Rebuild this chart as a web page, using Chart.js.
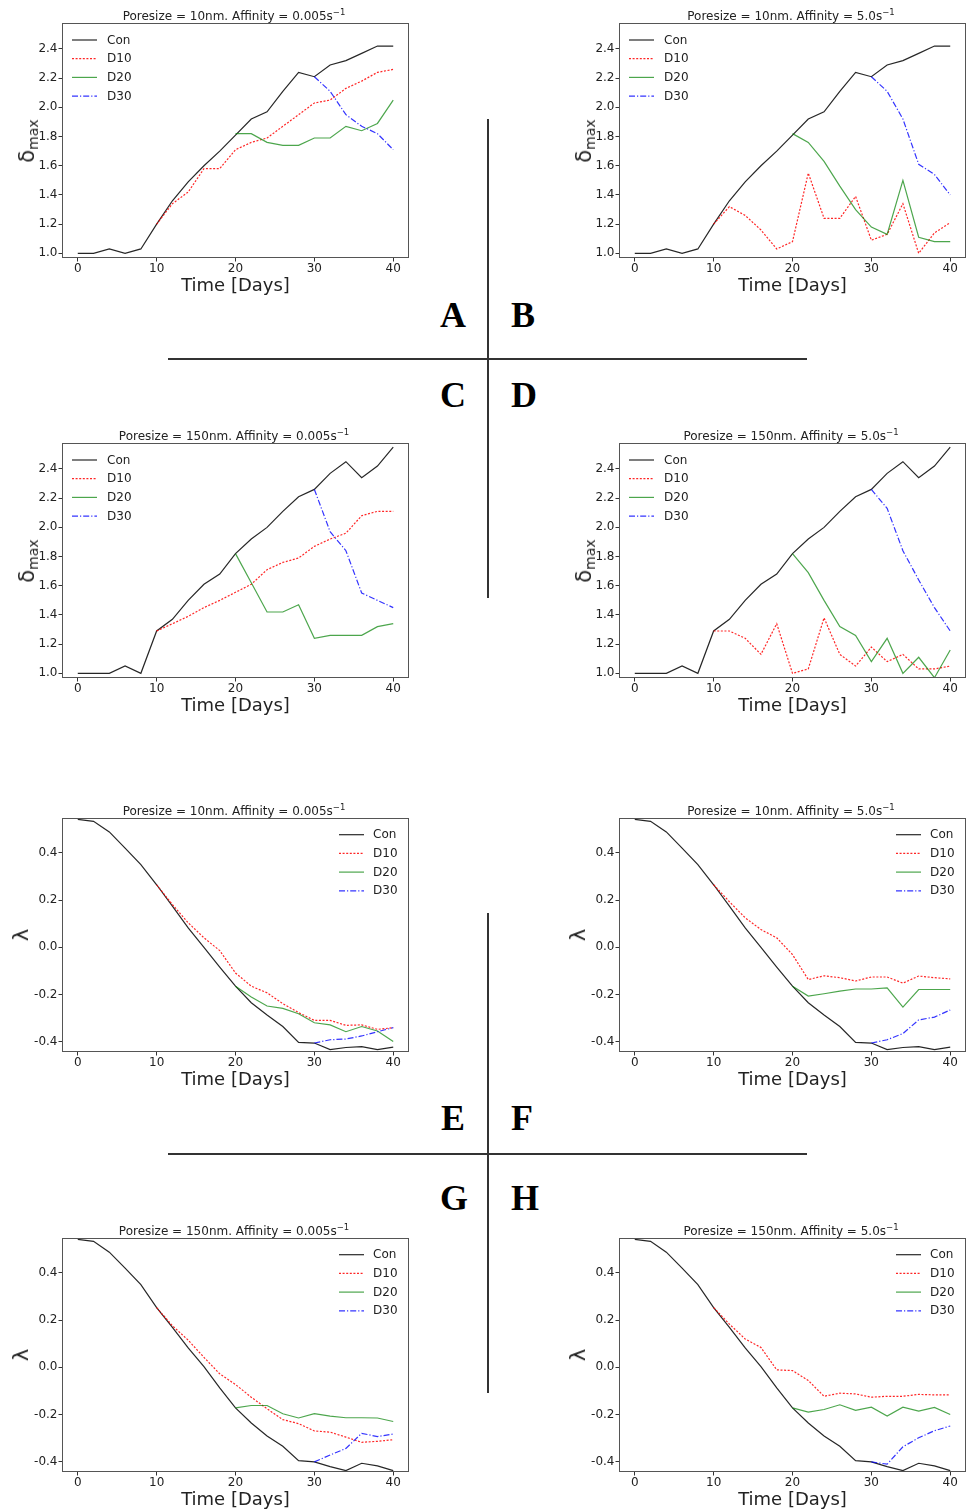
<!DOCTYPE html>
<html>
<head>
<meta charset="utf-8">
<script src="https://cdn.jsdelivr.net/npm/chart.js@4.4.1/dist/chart.umd.min.js"></script>
<style>
  html, body { margin: 0; padding: 0; background: #fff; }
  #wrap { position: relative; width: 970px; height: 1511px; overflow: hidden; font-family: "DejaVu Sans", sans-serif; color: #222; }
  canvas.pc { position: absolute; }
  .t { position: absolute; white-space: nowrap; transform: translate(-50%, -50%); }
  .title { font-size: 12px; }
  .title sup { font-size: 8.5px; vertical-align: 0; position: relative; top: -5px; }
  .xl { font-size: 18px; }
  .yl { font-size: 21px; transform: translate(-50%, -50%) rotate(-90deg); }
  .yl sub { font-size: 14px; vertical-align: 0; position: relative; top: 4px; }
  .let { font-family: "Liberation Serif", "Times New Roman", serif; font-weight: bold; font-size: 36px; color: #000; }
  .ln { position: absolute; background: #333; }
</style>
</head>
<body>
<div id="wrap"></div>
<script>
// ---------- data ----------
const days = [0,2,4,6,8,10,12,14,16,18,20,22,24,26,28,30,32,34,36,38,40];
const xTicks = [0,10,20,30,40];
const deltaTicks = [1.0,1.2,1.4,1.6,1.8,2.0,2.2,2.4];
const lambdaTicks = [-0.4,-0.2,0.0,0.2,0.4];
const seriesNames = ['Con','D10','D20','D30'];
const seriesStart = [0,10,20,30];

const conSmallDelta = [1.0,1.0,1.03,1.0,1.03,1.2,1.36,1.49,1.6,1.7,1.81,1.92,1.97,2.11,2.24,2.21,2.29,2.32,2.37,2.42,2.42];
const A_d10 = [1.2,1.34,1.42,1.58,1.58,1.71,1.76,1.79,1.87,1.95,2.03,2.05,2.13,2.18,2.24,2.26];
const A_d20 = [1.82,1.82,1.76,1.74,1.74,1.79,1.79,1.87,1.84,1.89,2.05];
const A_d30 = [2.21,2.11,1.95,1.87,1.82,1.71];

const B_d10 = [1.2,1.32,1.26,1.16,1.03,1.08,1.55,1.24,1.24,1.39,1.09,1.13,1.34,1.0,1.14,1.21];
const B_d20 = [1.82,1.76,1.63,1.46,1.30,1.18,1.13,1.50,1.11,1.08,1.08];
const B_d30 = [2.21,2.11,1.92,1.61,1.54,1.40];

const conLargeDelta = [1.0,1.0,1.0,1.05,1.0,1.29,1.37,1.50,1.61,1.68,1.82,1.92,2.0,2.11,2.21,2.26,2.37,2.45,2.34,2.42,2.55];
const C_d10 = [1.29,1.34,1.39,1.45,1.50,1.555,1.61,1.71,1.76,1.79,1.87,1.92,1.96,2.08,2.11,2.11];
const C_d20 = [1.82,1.62,1.42,1.42,1.47,1.24,1.26,1.26,1.26,1.32,1.34];
const C_d30 = [2.26,1.97,1.84,1.55,1.50,1.45];

const D_d10 = [1.29,1.29,1.24,1.13,1.34,1.0,1.03,1.38,1.13,1.05,1.18,1.08,1.13,1.03,1.03,1.05];
const D_d20 = [1.82,1.69,1.50,1.32,1.26,1.08,1.24,1.0,1.11,0.97,1.16];
const D_d30 = [2.26,2.13,1.84,1.64,1.45,1.29];

const conSmallLambda = [0.542,0.534,0.489,0.42,0.35,0.265,0.174,0.082,0.0,-0.084,-0.165,-0.235,-0.287,-0.336,-0.403,-0.406,-0.434,-0.425,-0.421,-0.434,-0.423];
const E_d10 = [0.265,0.181,0.104,0.04,-0.014,-0.109,-0.165,-0.193,-0.239,-0.277,-0.310,-0.310,-0.331,-0.329,-0.348,-0.341];
const E_d20 = [-0.165,-0.211,-0.249,-0.259,-0.282,-0.320,-0.329,-0.358,-0.336,-0.355,-0.40];
const E_d30 = [-0.406,-0.392,-0.389,-0.376,-0.358,-0.341];

const F_d10 = [0.265,0.193,0.125,0.075,0.04,-0.031,-0.137,-0.121,-0.129,-0.143,-0.126,-0.126,-0.152,-0.122,-0.129,-0.134];
const F_d20 = [-0.165,-0.207,-0.197,-0.186,-0.177,-0.177,-0.172,-0.254,-0.179,-0.179,-0.179];
const F_d30 = [-0.406,-0.392,-0.366,-0.308,-0.296,-0.266];

const conLargeLambda = [0.542,0.534,0.488,0.42,0.35,0.253,0.169,0.082,0.003,-0.087,-0.172,-0.236,-0.291,-0.335,-0.396,-0.401,-0.421,-0.438,-0.407,-0.418,-0.438];
const G_d10 = [0.253,0.176,0.115,0.042,-0.028,-0.073,-0.127,-0.176,-0.222,-0.239,-0.270,-0.275,-0.296,-0.318,-0.314,-0.307];
const G_d20 = [-0.172,-0.162,-0.162,-0.197,-0.215,-0.197,-0.207,-0.214,-0.214,-0.215,-0.230];
const G_d30 = [-0.401,-0.372,-0.344,-0.28,-0.294,-0.283];

const H_d10 = [0.253,0.183,0.12,0.084,-0.011,-0.014,-0.056,-0.123,-0.110,-0.113,-0.127,-0.123,-0.123,-0.115,-0.117,-0.117];
const H_d20 = [-0.172,-0.190,-0.179,-0.159,-0.183,-0.169,-0.207,-0.169,-0.186,-0.17,-0.2];
const H_d30 = [-0.401,-0.411,-0.337,-0.299,-0.269,-0.249];

const panelTitles = [
  ['10nm','0.005'], ['10nm','5.0'], ['150nm','0.005'], ['150nm','5.0'],
  ['10nm','0.005'], ['10nm','5.0'], ['150nm','0.005'], ['150nm','5.0']
];

// ---------- styles ----------
const styles = [
  { color: 'rgba(0,0,0,0.85)', dash: [] , w: 1.2 },
  { color: 'rgba(255,0,0,0.85)', dash: [2,1.6], w: 1.2 },
  { color: 'rgba(0,128,0,0.7)', dash: [], w: 1.2 },
  { color: 'rgba(0,0,255,0.8)', dash: [6,2,1.2,2], w: 1.2 }
];

const panels = [
  { kind:'d', left:0,   top:0,    series:[conSmallDelta,A_d10,A_d20,A_d30], leg:'left' },
  { kind:'d', left:557, top:0,    series:[conSmallDelta,B_d10,B_d20,B_d30], leg:'left' },
  { kind:'d', left:0,   top:420,  series:[conLargeDelta,C_d10,C_d20,C_d30], leg:'left' },
  { kind:'d', left:557, top:420,  series:[conLargeDelta,D_d10,D_d20,D_d30], leg:'left' },
  { kind:'l', left:0,   top:795,  series:[conSmallLambda,E_d10,E_d20,E_d30], leg:'right' },
  { kind:'l', left:557, top:795,  series:[conSmallLambda,F_d10,F_d20,F_d30], leg:'right' },
  { kind:'l', left:0,   top:1215, series:[conLargeLambda,G_d10,G_d20,G_d30], leg:'right' },
  { kind:'l', left:557, top:1215, series:[conLargeLambda,H_d10,H_d20,H_d30], leg:'right' }
];

const wrap = document.getElementById('wrap');
const CW = 420, PADL = 62, PADT = 23, PADR = 11;

const framePlugin = {
  id: 'frameLegend',
  afterDraw(chart, args, opts) {
    const ctx = chart.ctx, a = chart.chartArea;
    ctx.save();
    ctx.strokeStyle = '#555';
    ctx.lineWidth = 1;
    ctx.setLineDash([]);
    ctx.strokeRect(Math.round(a.left) + 0.5, Math.round(a.top) + 0.5, Math.round(a.right - a.left) - 1, Math.round(a.bottom - a.top) - 1);
    // legend
    ctx.font = '12px "DejaVu Sans", sans-serif';
    ctx.textBaseline = 'middle';
    ctx.textAlign = 'left';
    let x0, x1, xt, y0;
    if (opts.side === 'left') { x0 = a.left + 10; x1 = a.left + 35; xt = a.left + 45; y0 = a.top + 17; }
    else { x0 = a.right - 70; x1 = a.right - 45; xt = a.right - 36; y0 = a.top + 16.7; }
    chart.data.datasets.forEach((ds, i) => {
      const y = y0 + i * 18.7;
      ctx.strokeStyle = ds.borderColor;
      ctx.lineWidth = ds.borderWidth;
      ctx.setLineDash(ds.borderDash || []);
      ctx.beginPath(); ctx.moveTo(x0, y); ctx.lineTo(x1, y); ctx.stroke();
      ctx.setLineDash([]);
      ctx.fillStyle = '#222';
      ctx.fillText(ds.label, xt, y + 0.5);
    });
    ctx.restore();
  }
};

function addText(cls, html, x, y) {
  const d = document.createElement('div');
  d.className = 't ' + cls;
  d.innerHTML = html;
  d.style.left = x + 'px';
  d.style.top = y + 'px';
  wrap.appendChild(d);
}

panels.forEach((p, pi) => {
  const isD = p.kind === 'd';
  const CH = isD ? 300 : 299;
  const XH = 42;
  const cv = document.createElement('canvas');
  cv.className = 'pc';
  cv.width = CW; cv.height = CH;
  cv.style.left = p.left + 'px'; cv.style.top = p.top + 'px';
  cv.style.width = CW + 'px'; cv.style.height = CH + 'px';
  wrap.appendChild(cv);

  const datasets = p.series.map((vals, si) => {
    const startIdx = days.indexOf(seriesStart[si]);
    return {
      label: seriesNames[si],
      data: vals.map((v, k) => ({ x: days[startIdx + k], y: v })),
      borderColor: styles[si].color,
      borderDash: styles[si].dash,
      borderWidth: styles[si].w,
      pointRadius: 0,
      fill: false,
      tension: 0,
      order: 4 - si
    };
  });

  const yT = isD ? deltaTicks : lambdaTicks;
  new Chart(cv, {
    type: 'line',
    data: { datasets },
    options: {
      responsive: false,
      animation: false,
      devicePixelRatio: 1,
      layout: { padding: { top: PADT, right: PADR, left: 0, bottom: 0 } },
      plugins: { legend: { display: false }, tooltip: { enabled: false }, frameLegend: { side: p.leg } },
      scales: {
        x: {
          type: 'linear', min: -2, max: 42,
          afterFit: s => { s.height = XH; },
          afterBuildTicks: s => { s.ticks = xTicks.map(v => ({ value: v })); },
          grid: { drawOnChartArea: false, drawTicks: true, tickLength: 3.5, color: '#333' },
          border: { display: false },
          ticks: { color: '#222', padding: 0, maxRotation: 0, autoSkip: false, font: { family: '"DejaVu Sans", sans-serif', size: 12 }, callback: v => String(v) }
        },
        y: {
          type: 'linear',
          min: isD ? 0.968 : -0.444,
          max: isD ? 2.578 : 0.548,
          afterFit: s => { s.width = PADL; },
          afterBuildTicks: s => { s.ticks = yT.map(v => ({ value: v })); },
          grid: { drawOnChartArea: false, drawTicks: true, tickLength: 3.5, color: '#333' },
          border: { display: false },
          ticks: { color: '#222', padding: 1, autoSkip: false, font: { family: '"DejaVu Sans", sans-serif', size: 12 }, callback: v => Number(v).toFixed(1) }
        }
      }
    },
    plugins: [framePlugin]
  });

  const boxL = p.left + PADL, boxR = p.left + CW - PADR;
  const boxT = p.top + PADT, boxB = p.top + CH - XH;
  const cx = (boxL + boxR) / 2;
  const t = panelTitles[pi];
  addText('title', 'Poresize = ' + t[0] + '. Affinity = ' + t[1] + 's<sup>\u22121</sup>', cx - 1.5, boxT - 7.5);
  addText('xl', 'Time [Days]', cx, boxB + 25.5);
  if (isD) addText('yl', '\u03b4<sub>max</sub>', p.left + 27, (boxT + boxB) / 2);
  else addText('yl', '\u03bb', p.left + 21, (boxT + boxB) / 2);
});

// letters and dividers
[['A',453,315],['B',523,315],['C',453,395],['D',524,395],['E',453,1118],['F',522,1118],['G',454,1198],['H',525,1198]]
  .forEach(l => addText('let', l[0], l[1], l[2]));

function addLine(x, y, w, h) {
  const d = document.createElement('div');
  d.className = 'ln';
  d.style.left = x + 'px'; d.style.top = y + 'px';
  d.style.width = w + 'px'; d.style.height = h + 'px';
  wrap.appendChild(d);
}
addLine(487, 119, 1.5, 479);
addLine(168, 358, 639, 1.5);
addLine(487, 913, 1.5, 480);
addLine(168, 1153, 639, 1.5);
</script>
</body>
</html>
